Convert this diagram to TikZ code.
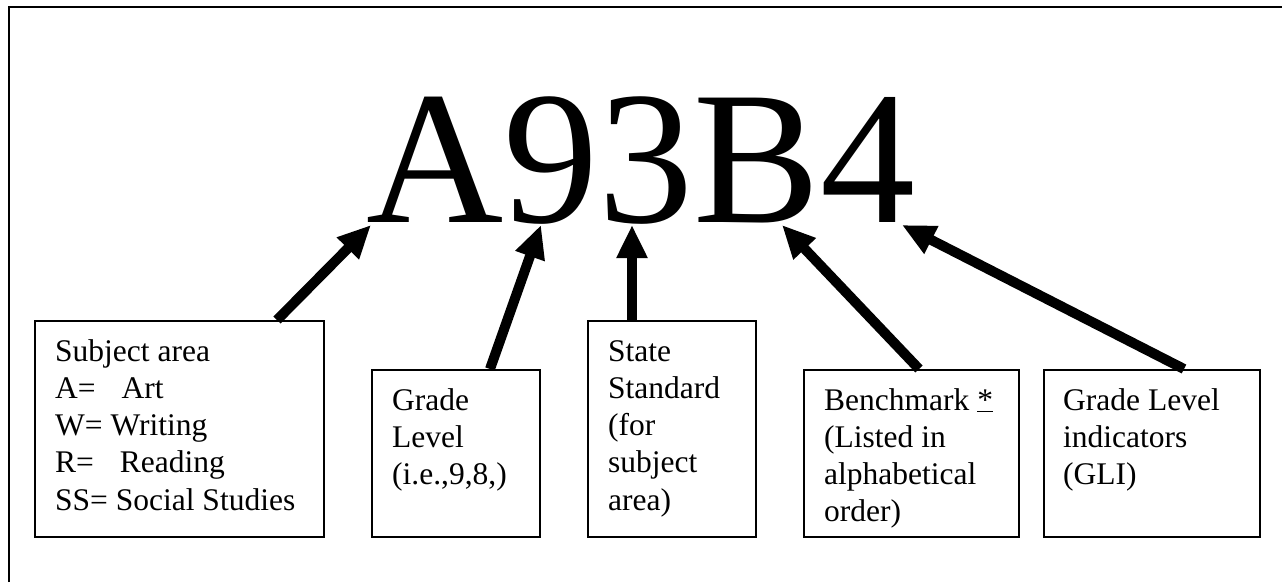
\documentclass[tikz,border=0pt]{standalone}
\usepackage{fontspec}
\setmainfont{Liberation Serif}
\usetikzlibrary{arrows.meta}
\tikzset{
  infobox/.style={draw, line width=2pt, inner sep=0pt, anchor=north west},
  infotext/.style={anchor=north west, inner sep=0pt, align=left,
    font=\fontsize{31.5}{37.2}\selectfont},
  bigarrow/.style={line width=10pt, -{Triangle[length=33pt,width=29pt]}},
  frameline/.style={line width=2pt}
}
\newcommand{\fl}{\rule{0pt}{28pt}}
\begin{document}
\begin{tikzpicture}[x=1pt,y=-1pt]
\useasboundingbox (0,0) rectangle (1282,582);
% outer frame (only top and left visible)
\coordinate (fA) at (9,582);
\coordinate (fB) at (9,7);
\coordinate (fC) at (1282,7);
\draw[frameline] (fA) -- (fB) -- (fC);

% code
\node[anchor=base west, inner sep=0pt, font=\fontsize{190}{190}\selectfont] (code) at (366,222) {A93B4};

% boxes
\node[infobox, minimum width=289pt, minimum height=216pt] (sub) at (34,320) {};
\node[infobox, minimum width=168pt, minimum height=167pt] (grade) at (371,369) {};
\node[infobox, minimum width=168pt, minimum height=216pt] (state) at (587,320) {};
\node[infobox, minimum width=215pt, minimum height=167pt] (bench) at (803,369) {};
\node[infobox, minimum width=216pt, minimum height=167pt] (gli) at (1043,369) {};

% texts
\node[infotext] (subT) at ([shift={(21,13)}]sub.north west)
  {\fl Subject area\\A=\hspace{26pt}Art\\W= Writing\\R=\hspace{26pt}Reading\\SS= Social Studies};
\node[infotext] (gradeT) at ([shift={(21,13)}]grade.north west)
  {\fl Grade\\Level\\(i.e.,9,8,)};
\node[infotext] (stateT) at ([shift={(21,13)}]state.north west)
  {\fl State\\Standard\\(for\\subject\\area)};
\node[infotext] (benchT) at ([shift={(21,13)}]bench.north west)
  {\fl Benchmark \underline{*}\\(Listed in\\alphabetical\\order)};
\node[infotext] (gliT) at ([shift={(20,13)}]gli.north west)
  {\fl Grade Level\\indicators\\(GLI)};

% arrow end points
\coordinate (sA) at (277,320);
\coordinate (sB) at (490,369);
\coordinate (sC) at (632,320);
\coordinate (sD) at (919,369);
\coordinate (sE) at (1184,369);
\coordinate (tA) at (371,225);
\coordinate (tB) at (541,225);
\coordinate (tC) at (632,225);
\coordinate (tD) at (782,225);
\coordinate (tE) at (902,225);

\draw[bigarrow] (sA) -- (tA);
\draw[bigarrow] (sB) -- (tB);
\draw[bigarrow] (sC) -- (tC);
\draw[bigarrow] (sD) -- (tD);
\draw[bigarrow] (sE) -- (tE);
\end{tikzpicture}
\end{document}
